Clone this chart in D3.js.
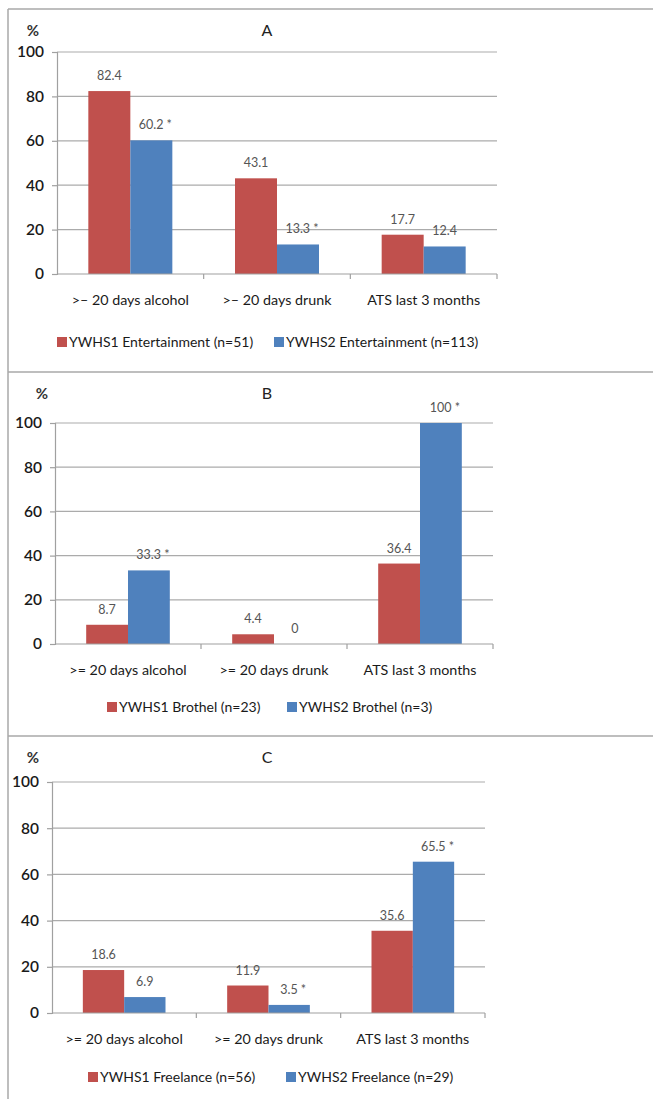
<!DOCTYPE html>
<html>
<head>
<meta charset="utf-8">
<script src="https://cdn.jsdelivr.net/npm/d3@7"></script>
<style>
  html, body { margin: 0; padding: 0; background: #fff; }
  svg { display: block; }
  text { font-family: Lato, "Open Sans", sans-serif; }
</style>
</head>
<body>
<svg id="chart" width="653" height="1099"></svg>
<script>
// Shared categories and tick values
const categories = [">= 20 days alcohol", ">= 20 days drunk", "ATS last 3 months"];
const yTicks = [0, 20, 40, 60, 80, 100];

// Panel A: entertainment workers
const titleA = "A";
const seriesNamesA = ["YWHS1 Entertainment (n=51)", "YWHS2 Entertainment (n=113)"];
const ywhs1A = [82.4, 43.1, 17.7];
const ywhs2A = [60.2, 13.3, 12.4];
const starsA = [[false, false, false], [true, true, false]];
const catLabelsA = [">\u2013 20 days alcohol", ">\u2013 20 days drunk", "ATS last 3 months"];

// Panel B: brothel-based workers
const titleB = "B";
const seriesNamesB = ["YWHS1 Brothel (n=23)", "YWHS2 Brothel (n=3)"];
const ywhs1B = [8.7, 4.4, 36.4];
const ywhs2B = [33.3, 0, 100];
const starsB = [[false, false, false], [true, false, true]];

// Panel C: freelance workers
const titleC = "C";
const seriesNamesC = ["YWHS1 Freelance (n=56)", "YWHS2 Freelance (n=29)"];
const ywhs1C = [18.6, 11.9, 35.6];
const ywhs2C = [6.9, 3.5, 65.5];
const starsC = [[false, false, false], [false, true, true]];

const colors = ["#C0504D", "#4F81BD"];

// Layout of each panel on the page
const panels = [
  { title: titleA, names: seriesNamesA, values: [ywhs1A, ywhs2A], stars: starsA, cats: catLabelsA,
    left: 57, right: 497, top: 52, bottom: 274, pctX: 33, titleY: 36, legY: 342,
    legend: [57, 274] },
  { title: titleB, names: seriesNamesB, values: [ywhs1B, ywhs2B], stars: starsB, cats: categories,
    left: 55, right: 493, top: 423, bottom: 644, pctX: 42, titleY: 399, legY: 707,
    legend: [107, 287] },
  { title: titleC, names: seriesNamesC, values: [ywhs1C, ywhs2C], stars: starsC, cats: categories,
    left: 52, right: 485, top: 782, bottom: 1013, pctX: 33, titleY: 763, legY: 1077,
    legend: [88, 286] }
];

const svg = d3.select("#chart");

// Outer frame and panel separators
const frame = svg.append("g").attr("stroke", "#a9a9a9").attr("stroke-width", 1.5).attr("fill", "none");
frame.append("line").attr("x1", 8).attr("x2", 653).attr("y1", 9).attr("y2", 9);
frame.append("line").attr("x1", 8).attr("x2", 8).attr("y1", 9).attr("y2", 1099);
frame.append("line").attr("x1", 8).attr("x2", 653).attr("y1", 372).attr("y2", 372);
frame.append("line").attr("x1", 8).attr("x2", 653).attr("y1", 736).attr("y2", 736);

panels.forEach(p => {
  const g = svg.append("g");
  const y = d3.scaleLinear().domain([0, 100]).range([p.bottom, p.top]);
  const x0 = d3.scaleBand().domain(categories).range([p.left, p.right]).padding(0);
  const x1 = d3.scaleBand().domain([0, 1]).range([0, x0.bandwidth()]).paddingInner(0).paddingOuter(0.746);

  // Gridlines
  g.append("g").selectAll("line").data(yTicks.filter(t => t > 0)).join("line")
    .attr("x1", p.left).attr("x2", p.right)
    .attr("y1", d => y(d)).attr("y2", d => y(d))
    .attr("stroke", "#ababab").attr("stroke-width", 1.2);

  // Y axis
  const yAxis = d3.axisLeft(y).tickValues(yTicks).tickSize(5).tickPadding(8);
  const ya = g.append("g").attr("transform", `translate(${p.left},0)`).call(yAxis);
  ya.select(".domain").attr("stroke", "#a0a0a0").attr("stroke-width", 1.2);
  ya.selectAll(".tick line").attr("stroke", "#a0a0a0").attr("stroke-width", 1.2);
  ya.selectAll(".tick text").attr("font-size", 15.5).attr("fill", "#1a1a1a")
    .attr("font-family", "Lato, sans-serif").attr("font-weight", 600);

  // Bars
  const groups = g.append("g").selectAll("g").data(categories).join("g")
    .attr("transform", d => `translate(${x0(d)},0)`);
  groups.selectAll("rect").data((c, i) => [0, 1].map(s => ({ s, v: p.values[s][i], star: p.stars[s][i] })))
    .join("rect")
    .attr("x", d => x1(d.s)).attr("width", x1.bandwidth())
    .attr("y", d => y(d.v)).attr("height", d => y(0) - y(d.v))
    .attr("fill", d => colors[d.s]);

  // Value labels
  groups.selectAll("text.val").data((c, i) => [0, 1].map(s => ({ s, v: p.values[s][i], star: p.stars[s][i] })))
    .join("text").attr("class", "val")
    .attr("x", d => x1(d.s) + x1.bandwidth() / 2 + (d.star ? 4 : 0))
    .attr("y", d => y(d.v) - 11)
    .attr("text-anchor", "middle").attr("font-size", 12.5).attr("fill", "#555")
    .text(d => String(d.v) + (d.star ? " *" : ""));

  // X axis baseline and category ticks
  const xa = g.append("g").attr("transform", `translate(0,${p.bottom})`);
  xa.append("line").attr("x1", p.left).attr("x2", p.right).attr("stroke", "#a0a0a0").attr("stroke-width", 1.2);
  xa.selectAll("line.tk").data(categories.slice(1).map(c => x0(c)).concat([p.right])).join("line")
    .attr("class", "tk").attr("x1", d => d).attr("x2", d => d).attr("y1", 0).attr("y2", 5)
    .attr("stroke", "#a0a0a0").attr("stroke-width", 1.2);
  xa.selectAll("text").data(categories).join("text")
    .attr("x", d => x0(d) + x0.bandwidth() / 2).attr("y", 31)
    .attr("text-anchor", "middle").attr("font-size", 14.3).attr("fill", "#1a1a1a")
    .text((d, i) => p.cats[i]);

  // Titles
  g.append("text").attr("x", p.pctX).attr("y", p.titleY).attr("text-anchor", "middle")
    .attr("font-size", 15).attr("font-weight", 700).attr("fill", "#333").text("%");
  g.append("text").attr("x", 267).attr("y", p.titleY).attr("text-anchor", "middle")
    .attr("font-size", 16).attr("fill", "#222").text(p.title);

  // Legend
  const lg = g.append("g");
  p.names.forEach((n, i) => {
    lg.append("rect").attr("x", p.legend[i]).attr("y", p.legY - 5).attr("width", 10).attr("height", 10)
      .attr("fill", colors[i]);
    lg.append("text").attr("x", p.legend[i] + 12).attr("y", p.legY + 5)
      .attr("font-size", 14).attr("fill", "#1a1a1a").text(n);
  });
});
</script>
</body>
</html>
